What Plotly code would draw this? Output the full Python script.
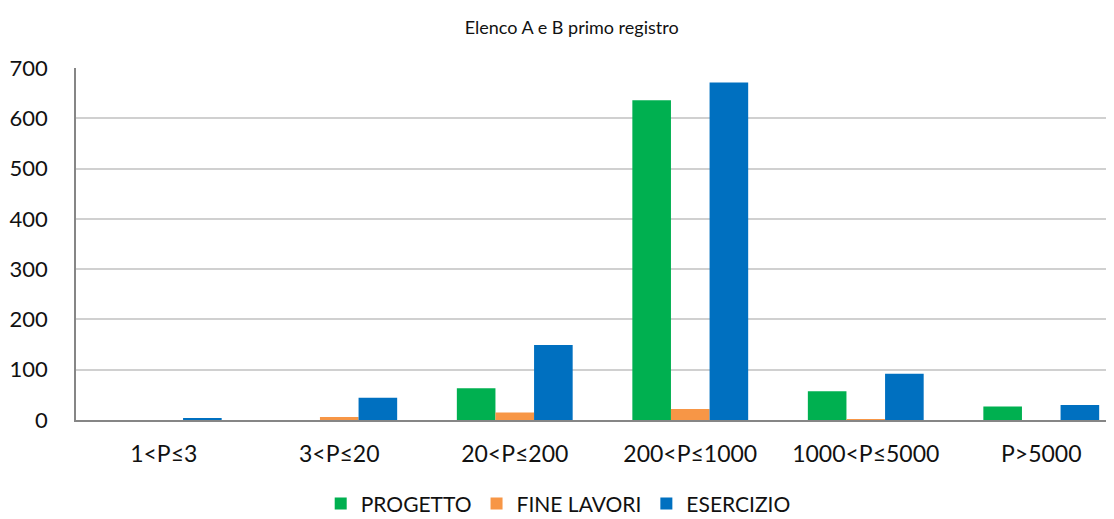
import plotly.graph_objects as go

categories = ["1<P≤3", "3<P≤20", "20<P≤200", "200<P≤1000", "1000<P≤5000", "P>5000"]
progetto = [0, 0, 63, 636, 57, 27]
fine_lavori = [0, 6, 15, 22, 0.5, 0]
esercizio = [2, 44, 149, 671, 92, 30]
y_ticks = [0, 100, 200, 300, 400, 500, 600, 700]

FONT = "Lato, Open Sans, sans-serif"

fig = go.Figure()
fig.add_trace(go.Bar(name="PROGETTO", x=categories, y=progetto,
                     marker=dict(color="#00B050", line=dict(width=0))))
fig.add_trace(go.Bar(name="FINE LAVORI", x=categories, y=fine_lavori,
                     marker=dict(color="#F79646", line=dict(width=0))))
fig.add_trace(go.Bar(name="ESERCIZIO", x=categories, y=esercizio,
                     marker=dict(color="#0070C0", line=dict(width=0))))

fig.update_layout(
    width=1114, height=519,
    paper_bgcolor="white", plot_bgcolor="white",
    margin=dict(l=68, r=0, t=60, b=107, autoexpand=False),
    barmode="group", bargap=0.34, bargroupgap=0,
    title=dict(text="Elenco A e B primo registro", x=0.506, xanchor="center",
               y=0.963, yanchor="middle",
               font=dict(family=FONT, size=18, color="#111111")),
    font=dict(family=FONT, color="#111111"),
    legend=dict(orientation="h", x=0.461, xanchor="center", y=-0.238, yanchor="middle",
                font=dict(family=FONT, size=21, color="#111111"),
                traceorder="normal"),
    xaxis=dict(type="category", range=[-0.5, 5.46], showgrid=False,
               showline=True, linecolor="#868686", linewidth=2,
               ticks="", tickfont=dict(family=FONT, size=23, color="#111111"),
               ticklabelstandoff=12),
    yaxis=dict(range=[0, 700], tickvals=y_ticks, showgrid=True,
               gridcolor="#D0D0D0", gridwidth=1.5,
               showline=True, linecolor="#868686", linewidth=1.5,
               ticks="", tickfont=dict(family=FONT, size=22, color="#111111"),
               ticklabelstandoff=22, zeroline=False),
)

fig.write_html("out.html")
